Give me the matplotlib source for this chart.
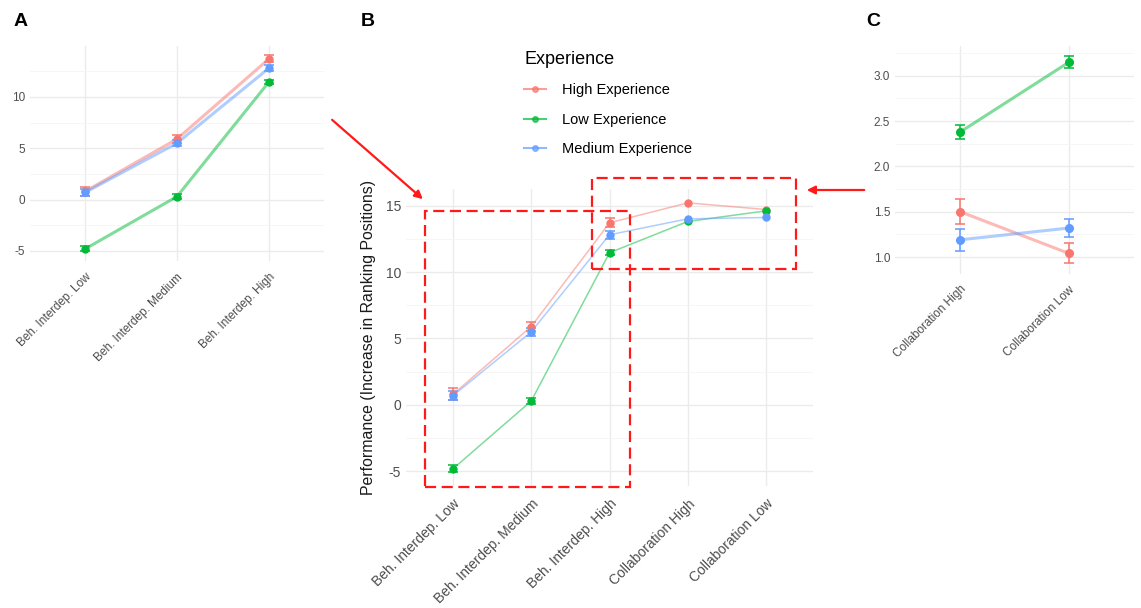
import matplotlib.pyplot as plt
from matplotlib.lines import Line2D
from matplotlib.patches import Rectangle, FancyArrowPatch

plt.rcParams['font.family'] = ['Liberation Sans', 'DejaVu Sans']
plt.rcParams['axes.unicode_minus'] = False

# conditions
beh_levels = ['Beh. Interdep. Low', 'Beh. Interdep. Medium', 'Beh. Interdep. High']
collab_levels = ['Collaboration High', 'Collaboration Low']
all_levels = beh_levels + collab_levels

groups = ['High Experience', 'Low Experience', 'Medium Experience']
colors = ['#F8766D', '#00BA38', '#619CFF']

# performance per condition (all five)
perf_high = [0.8, 5.9, 13.7, 15.2, 14.7]
perf_low = [-4.8, 0.3, 11.45, 13.8, 14.6]
perf_medium = [0.7, 5.5, 12.8, 14.0, 14.1]
se_high = [0.45, 0.35, 0.35, 0.0, 0.0]
se_low = [0.25, 0.2, 0.2, 0.0, 0.0]
se_medium = [0.35, 0.3, 0.3, 0.0, 0.0]

# collaboration-only model
collab_high = [1.50, 1.04]
collab_low = [2.38, 3.15]
collab_medium = [1.19, 1.32]
collab_se_high = [0.14, 0.11]
collab_se_low = [0.08, 0.065]
collab_se_medium = [0.12, 0.10]

W, H = 1141, 608
fig = plt.figure(figsize=(W / 100, H / 100), dpi=100)


def px_axes(left, top, right, bottom):
    return fig.add_axes([left / W, 1 - bottom / H, (right - left) / W, (bottom - top) / H])


def panel(ax, labels, means, errs, lw, ms, tsize, major, minor, fmt='{:g}', xpad=6):
    xs = list(range(len(labels)))
    lo, hi = [], []
    for m, e, c in zip(means, errs, colors):
        ax.plot(xs, m, color=c, lw=lw, alpha=0.5, zorder=2)
        ax.plot(xs, m, 'o', color=c, ms=ms, zorder=4)
        ex = [x for x, v in zip(xs, e) if v > 0]
        if ex:
            ax.errorbar(ex, [m[i] for i in ex], yerr=[e[i] for i in ex], fmt='none',
                        ecolor=c, elinewidth=1.3, capsize=3.5, capthick=1.3,
                        alpha=0.85, zorder=3)
        lo.append(min(a - b for a, b in zip(m, e)))
        hi.append(max(a + b for a, b in zip(m, e)))
    lo, hi = min(lo), max(hi)
    pad = 0.05 * (hi - lo)
    ax.set_xlim(-0.6, len(labels) - 0.4)
    ax.set_ylim(lo - pad, hi + pad)
    ax.set_xticks(xs, labels, rotation=45, ha='right', rotation_mode='anchor')
    ax.set_yticks(major, [fmt.format(v) for v in major])
    ax.set_yticks(minor, minor=True)
    ax.grid(True, which='major', color='#EBEBEB', lw=1.0)
    ax.grid(True, which='minor', axis='y', color='#F5F5F5', lw=0.6)
    ax.tick_params(which='both', length=0, colors='#4D4D4D', labelsize=tsize)
    ax.tick_params(axis='x', pad=xpad)
    ax.set_axisbelow(True)
    for s in ax.spines.values():
        s.set_visible(False)


# A: behavioural interdependence
ax_a = px_axes(30, 45.5, 324, 261.3)
panel(ax_a, beh_levels,
      [perf_high[:3], perf_low[:3], perf_medium[:3]],
      [se_high[:3], se_low[:3], se_medium[:3]],
      lw=2.2, ms=5, tsize=8.5, major=[-5, 0, 5, 10], minor=[-2.5, 2.5, 7.5, 12.5], xpad=7)

# B: all conditions
ax_b = px_axes(406, 189.4, 813, 485.6)
panel(ax_b, all_levels,
      [perf_high, perf_low, perf_medium],
      [se_high, se_low, se_medium],
      lw=1.1, ms=5, tsize=10, major=[-5, 0, 5, 10, 15], minor=[-2.5, 2.5, 7.5, 12.5], xpad=8)
ax_b.set_ylabel('Performance (Increase in Ranking Positions)', fontsize=11.4, color='#1A1A1A')
ax_b.yaxis.set_label_coords(-0.074, 0.5)

# highlighted regions
for (x0, y0, x1, y1) in [(-0.36, -6.2, 2.26, 14.6), (1.78, 10.2, 4.38, 17.1)]:
    ax_b.add_patch(Rectangle((x0, y0), x1 - x0, y1 - y0, fill=False, ec='#FF1A1A',
                             lw=1.6, ls=(0, (5, 2.5)), clip_on=False, zorder=5))

# C: collaboration
ax_c = px_axes(895, 46, 1134, 273.7)
panel(ax_c, collab_levels,
      [collab_high, collab_low, collab_medium],
      [collab_se_high, collab_se_low, collab_se_medium],
      lw=2.2, ms=5.5, tsize=8.5, major=[1.0, 1.5, 2.0, 2.5, 3.0],
      minor=[1.25, 1.75, 2.25, 2.75, 3.25], fmt='{:.1f}', xpad=7)

# arrows between panels
for (x0, y0), (x1, y1) in [((330, 118), (425, 201)), ((867, 190), (804, 190))]:
    fig.add_artist(FancyArrowPatch((x0 / W, 1 - y0 / H), (x1 / W, 1 - y1 / H),
                                   transform=fig.transFigure, arrowstyle='-|>',
                                   mutation_scale=12, lw=1.6, color='#FF1A1A'))

# panel letters
for letter, x in [('A', 21), ('B', 368), ('C', 873)]:
    fig.text(x / W, 1 - 22 / H, letter, fontsize=14, fontweight='bold', ha='center', va='center')

handles = [Line2D([], [], color=c, lw=1.5, marker='o', ms=4, alpha=0.7) for c in colors]
fig.legend(handles, groups, title='Experience', loc='upper left',
           bbox_to_anchor=(524 / W, 1 - 51 / H), frameon=False, fontsize=10.5,
           title_fontsize=13, borderpad=0, borderaxespad=0, handlelength=1.5,
           handletextpad=1.1, labelspacing=1.05, alignment='left')

fig.savefig('out.png', dpi=100)
